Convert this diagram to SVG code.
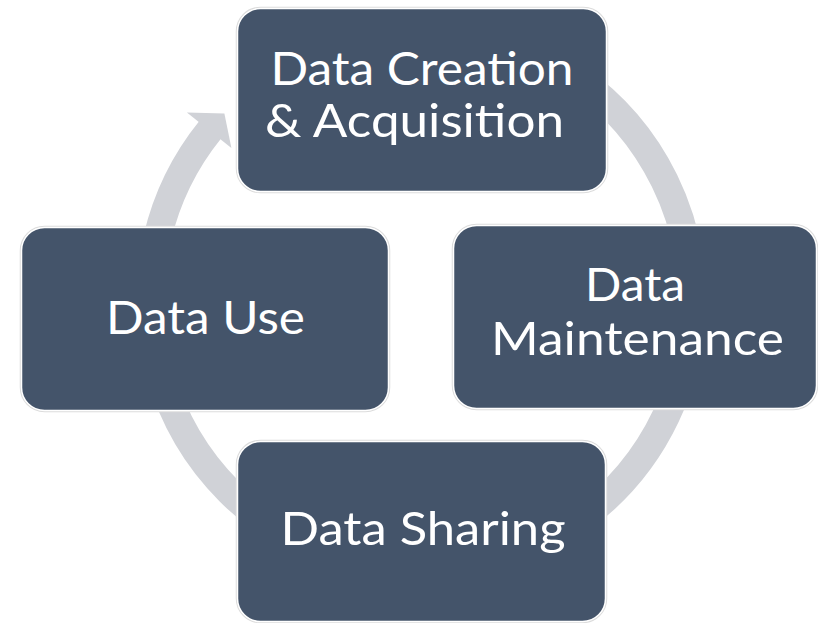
<svg xmlns="http://www.w3.org/2000/svg" width="818" height="623" viewBox="0 0 818 623">
  <style>
    .box-edge { fill: none; stroke: #DCDCDC; stroke-width: 3.5; }
    .box { fill: #44546A; stroke: #FFFFFF; stroke-width: 1.5; }
    .label { fill: #FFFFFF; font-family: Lato, "Open Sans", "Liberation Sans", sans-serif; font-size: 46px; }
    .ring { fill: none; stroke: #D0D2D7; stroke-width: 28; }
    .head { fill: #D0D2D7; }
  </style>
  <rect x="0" y="0" width="818" height="623" fill="#FFFFFF"/>
  <g id="connectors">
    <path class="ring" d="M 328.3 45.3 A 271 271 0 1 1 210.4 129.5"/>
    <polygon class="head" points="186.9,112.4 224.4,113.4 231.4,148.1"/>
  </g>
  <g id="node-creation">
    <rect class="box-edge" x="237.5" y="8.5" width="369" height="183" rx="23"/>
    <rect class="box" x="237.5" y="8.5" width="369" height="183" rx="23"/>
    <text class="label" x="270.5" y="85" textLength="303" lengthAdjust="spacingAndGlyphs">Data Creation</text>
    <text class="label" x="265" y="137" textLength="299" lengthAdjust="spacingAndGlyphs">&amp; Acquisition</text>
  </g>
  <g id="node-maintenance">
    <rect class="box-edge" x="453.5" y="225.5" width="363" height="183" rx="23"/>
    <rect class="box" x="453.5" y="225.5" width="363" height="183" rx="23"/>
    <text class="label" x="585" y="301" textLength="100" lengthAdjust="spacingAndGlyphs">Data</text>
    <text class="label" x="491" y="355" textLength="293" lengthAdjust="spacingAndGlyphs">Maintenance</text>
  </g>
  <g id="node-sharing">
    <rect class="box-edge" x="237.5" y="441.5" width="368" height="180" rx="23"/>
    <rect class="box" x="237.5" y="441.5" width="368" height="180" rx="23"/>
    <text class="label" x="280.5" y="545" textLength="285" lengthAdjust="spacingAndGlyphs">Data Sharing</text>
  </g>
  <g id="node-use">
    <rect class="box-edge" x="21.5" y="227.5" width="367" height="183" rx="23"/>
    <rect class="box" x="21.5" y="227.5" width="367" height="183" rx="23"/>
    <text class="label" x="106" y="334" textLength="199" lengthAdjust="spacingAndGlyphs">Data Use</text>
  </g>
</svg>
